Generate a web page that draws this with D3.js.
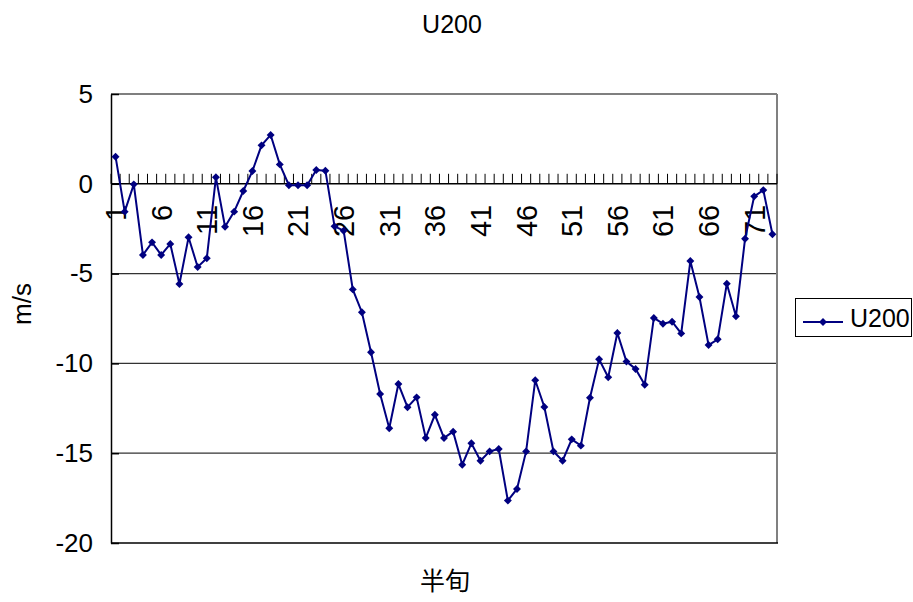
<!DOCTYPE html>
<html>
<head>
<meta charset="utf-8">
<script src="https://cdn.jsdelivr.net/npm/d3@7/dist/d3.min.js"></script>
<style>
  html, body { margin: 0; padding: 0; background: #fff; }
  svg { display: block; }
  text { font-family: "Liberation Sans", Arial, sans-serif; fill: #000; }
</style>
</head>
<body>
<svg id="chart" width="913" height="602"></svg>
<script>
// U200 wind component by pentad (73 pentads per year)
const pentads = d3.range(1, 74);
const u200 = [
  1.51, -1.55, -0.03, -3.96, -3.26, -3.96, -3.35, -5.58, -2.98, -4.63,
  -4.15, 0.36, -2.39, -1.55, -0.40, 0.71, 2.14, 2.72, 1.08, -0.08,
  -0.08, -0.08, 0.77, 0.73, -2.37, -2.61, -5.88, -7.15, -9.38, -11.70,
  -13.61, -11.15, -12.44, -11.89, -14.15, -12.86, -14.15, -13.80, -15.64, -14.45,
  -15.42, -14.90, -14.77, -17.64, -16.99, -14.90, -10.94, -12.43, -14.90, -15.42,
  -14.23, -14.58, -11.91, -9.77, -10.77, -8.31, -9.90, -10.31, -11.19, -7.47,
  -7.79, -7.68, -8.33, -4.30, -6.30, -8.98, -8.66, -5.56, -7.38, -3.06,
  -0.70, -0.35, -2.81
];
const xTickLabels = ["1", "6", "11", "16", "21", "26", "31", "36", "41", "46", "51", "56", "61", "66", "71"];
const yTicks = [5, 0, -5, -10, -15, -20];
const gridValues = [-5, -10, -15];
const seriesName = "U200";
const chartTitle = "U200";
const xTitle = "半旬";
const yTitle = "m/s";

const navy = "#000080";
const plot = { left: 111, right: 777, top: 94, bottom: 543 };

const svg = d3.select("#chart");

const x = d3.scaleBand()
  .domain(pentads)
  .range([plot.left, plot.right])
  .padding(0);
const y = d3.scaleLinear()
  .domain([-20, 5])
  .range([plot.bottom, plot.top]);
const cx = d => x(d) + x.bandwidth() / 2;

// Horizontal gridlines
svg.append("g")
  .selectAll("line")
  .data(gridValues)
  .join("line")
  .attr("x1", plot.left).attr("x2", plot.right)
  .attr("y1", d => y(d)).attr("y2", d => y(d))
  .attr("stroke", "#333").attr("stroke-width", 1.2);

// Plot area frame: grey top and right, black bottom
svg.append("line")
  .attr("x1", plot.left).attr("x2", plot.right)
  .attr("y1", y(5)).attr("y2", y(5))
  .attr("stroke", "#555").attr("stroke-width", 1.5);
svg.append("line")
  .attr("x1", plot.right).attr("x2", plot.right)
  .attr("y1", plot.top).attr("y2", plot.bottom)
  .attr("stroke", "#808080").attr("stroke-width", 2);
svg.append("line")
  .attr("x1", plot.left).attr("x2", plot.right + 1)
  .attr("y1", y(-20)).attr("y2", y(-20))
  .attr("stroke", "#000").attr("stroke-width", 1.5);

// Value axis with inward ticks; labels use a plain hyphen for negatives
const yAxis = svg.append("g")
  .attr("transform", `translate(${plot.left},0)`)
  .call(d3.axisLeft(y).tickValues(yTicks).tickFormat(d => String(d))
    .tickSizeInner(-8).tickSizeOuter(0).tickPadding(18));
yAxis.select(".domain").attr("stroke", "#000").attr("stroke-width", 1.5);
yAxis.selectAll(".tick line").attr("stroke", "#000").attr("stroke-width", 1.5);
yAxis.selectAll(".tick text")
  .style("font-family", "'Liberation Sans', Arial, sans-serif")
  .style("font-size", "26px")
  .attr("fill", "#000");

// Category axis crossing at zero, tick marks at category boundaries
const y0 = y(0);
const boundaries = pentads.map(d => x(d)).concat([x(pentads[pentads.length - 1]) + x.bandwidth()]);
const xAxis = svg.append("g");
xAxis.append("line")
  .attr("x1", plot.left).attr("x2", plot.right)
  .attr("y1", y0).attr("y2", y0)
  .attr("stroke", "#000").attr("stroke-width", 1.5);
xAxis.selectAll("line.tick")
  .data(boundaries)
  .join("line")
  .attr("class", "tick")
  .attr("x1", d => d).attr("x2", d => d)
  .attr("y1", y0).attr("y2", y0 - 10)
  .attr("stroke", "#000").attr("stroke-width", 1);
xAxis.selectAll("text")
  .data(xTickLabels)
  .join("text")
  .attr("transform", d => `translate(${cx(+d)},${y0 + 21}) rotate(-90)`)
  .attr("text-anchor", "end")
  .attr("dy", "0.36em")
  .style("font-size", "29px")
  .text(d => d);

// Series line and diamond markers
const line = d3.line()
  .x((d, i) => cx(pentads[i]))
  .y(d => y(d));
svg.append("path")
  .datum(u200)
  .attr("d", line)
  .attr("fill", "none")
  .attr("stroke", navy)
  .attr("stroke-width", 2);

const diamond = d3.symbol().type(d3.symbolDiamond2).size(40);
svg.append("g")
  .selectAll("path")
  .data(u200)
  .join("path")
  .attr("transform", (d, i) => `translate(${cx(pentads[i])},${y(d)})`)
  .attr("d", diamond)
  .attr("fill", navy);

// Titles
svg.append("text")
  .attr("x", 452).attr("y", 33)
  .attr("text-anchor", "middle")
  .style("font-size", "25px")
  .text(chartTitle);

svg.append("text")
  .attr("transform", "translate(22,304) rotate(-90)")
  .attr("text-anchor", "middle")
  .attr("dy", "0.36em")
  .style("font-size", "26px")
  .text(yTitle);

svg.append("text")
  .attr("x", 445).attr("y", 590)
  .attr("text-anchor", "middle")
  .style("font-family", "'Noto Sans CJK SC', sans-serif")
  .style("font-size", "25px")
  .text(xTitle);

// Legend
const legend = svg.append("g");
legend.append("rect")
  .attr("x", 795.5).attr("y", 298.5)
  .attr("width", 116).attr("height", 38)
  .attr("fill", "#fff").attr("stroke", "#000").attr("stroke-width", 1);
legend.append("line")
  .attr("x1", 803).attr("x2", 843)
  .attr("y1", 322).attr("y2", 322)
  .attr("stroke", navy).attr("stroke-width", 2);
legend.append("path")
  .attr("transform", "translate(823,322)")
  .attr("d", diamond)
  .attr("fill", navy);
legend.append("text")
  .attr("x", 850).attr("y", 327)
  .style("font-size", "25px")
  .text(seriesName);
</script>
</body>
</html>
